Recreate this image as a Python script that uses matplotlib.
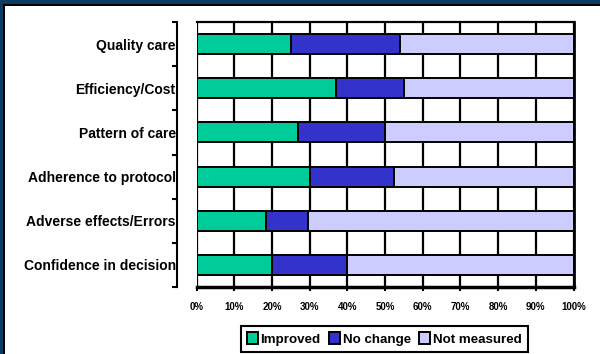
import matplotlib
matplotlib.use("Agg")
import matplotlib.pyplot as plt
from matplotlib.patches import Rectangle
from matplotlib.ticker import MultipleLocator, PercentFormatter
import numpy as np

plt.rcParams['font.family'] = ['Liberation Sans', 'DejaVu Sans']
plt.rcParams['font.weight'] = 'bold'

# Outcome areas and share of studies (%) in each result group
categories = ["Quality care", "Efficiency/Cost", "Pattern of care",
              "Adherence to protocol", "Adverse effects/Errors",
              "Confidence in decision"]
improved = [25, 37, 27, 30, 18.5, 20]
no_change = [29, 18, 23, 22.5, 11, 20]
not_measured = [46, 45, 50, 47.5, 70.5, 60]

series_names = ["Improved", "No change", "Not measured"]
series_colors = ["#00CC99", "#3333CC", "#CCCCFF"]

W, H = 600, 354
fig = plt.figure(figsize=(W / 100, H / 100), dpi=100)
fig.patch.set_facecolor("white")

# dark slide frame on the top and left edges
navy = "#0b3d62"
fig.patches.append(Rectangle((0, 1 - 4 / H), 1, 4 / H, transform=fig.transFigure,
                             facecolor=navy, edgecolor="none", zorder=0))
fig.patches.append(Rectangle((0, 0), 3 / W, 1, transform=fig.transFigure,
                             facecolor=navy, edgecolor="none", zorder=0))
fig.patches.append(Rectangle((3 / W, 1 - 6 / H), 1, 2 / H, transform=fig.transFigure,
                             facecolor="black", edgecolor="none", zorder=0))
fig.patches.append(Rectangle((3 / W, 0), 2 / W, 1 - 4 / H, transform=fig.transFigure,
                             facecolor="black", edgecolor="none", zorder=0))

ax = fig.add_axes([196.5 / W, 1 - 287 / H, 377 / W, 265 / H])
ax.set_facecolor("white")

y = np.arange(len(categories))
left = np.zeros(len(categories))
for vals, color, name in zip([improved, no_change, not_measured], series_colors, series_names):
    ax.barh(y, vals, left=left, height=0.45, color=color, edgecolor="black",
            linewidth=1.4, label=name, zorder=3)
    left = left + np.array(vals)

ax.set_xlim(0, 100)
ax.set_ylim(len(categories) - 0.5, -0.5)

ax.xaxis.set_major_locator(MultipleLocator(10))
ax.xaxis.set_major_formatter(PercentFormatter(xmax=100, decimals=0))
ax.grid(axis="x", color="black", linewidth=1.6, zorder=0)
ax.set_axisbelow(True)

ax.set_yticks(np.arange(-0.5, len(categories), 1))
ax.set_yticks(y, minor=True)
ax.set_yticklabels(categories, minor=True, fontsize=10.5, fontweight="bold")
ax.tick_params(axis="y", which="major", length=3.5, width=1.5, direction="out",
               labelleft=False, color="black")
ax.tick_params(axis="y", which="minor", length=0, pad=1)
ax.tick_params(axis="x", which="major", length=3, width=1.5, direction="out",
               pad=8, labelsize=7)
for lbl in ax.get_xticklabels():
    lbl.set_fontweight("bold")

ax.spines["left"].set_position(("outward", 14))
ax.spines["left"].set_linewidth(1.5)
ax.spines["bottom"].set_linewidth(2.5)
ax.spines["top"].set_linewidth(1.6)
ax.spines["right"].set_linewidth(2.0)
for s in ax.spines.values():
    s.set_color("black")

leg = fig.legend(loc="center", bbox_to_anchor=(384 / W, 1 - 339 / H), ncol=3,
                 frameon=True, fancybox=False, framealpha=1, edgecolor="black",
                 borderpad=0.45, handlelength=0.85, handleheight=1.0,
                 handletextpad=0.2, columnspacing=0.6, borderaxespad=0,
                 prop={"weight": "bold", "size": 9.6})
leg.get_frame().set_linewidth(1.5)

fig.savefig("out.png", dpi=100, facecolor=fig.get_facecolor())
